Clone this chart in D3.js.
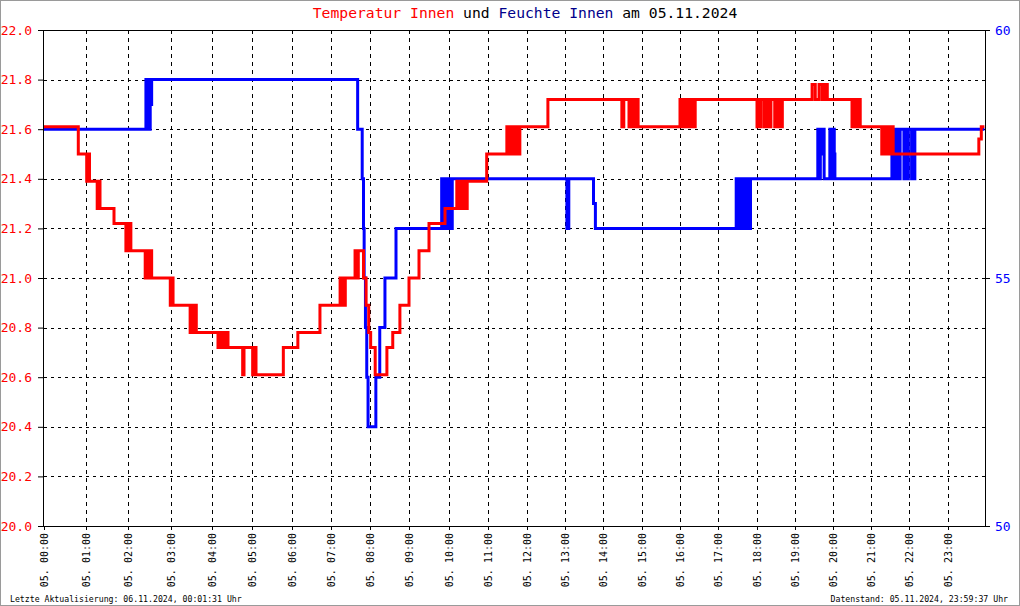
<!DOCTYPE html>
<html>
<head>
<meta charset="utf-8">
<script src="https://cdn.jsdelivr.net/npm/d3@7"></script>
<style>
  body { margin: 0; background: #fff; }
  svg { display: block; }
</style>
</head>
<body>
<script>
const margin = ({top: 30, right: 35, bottom: 80, left: 44})
const width = 1020
const height = 606

// x axis of the original runs by sample index, not clock time: samples logged per hour
const samplesPerHour = [42, 42, 43, 41, 40, 40, 39, 39, 39, 40, 39, 39,
                        38, 38, 39, 38, 38, 39, 38, 38, 38, 38, 39, 37]

const hourLabels = ["05. 00:00", "05. 01:00", "05. 02:00", "05. 03:00", "05. 04:00", "05. 05:00",
                    "05. 06:00", "05. 07:00", "05. 08:00", "05. 09:00", "05. 10:00", "05. 11:00",
                    "05. 12:00", "05. 13:00", "05. 14:00", "05. 15:00", "05. 16:00", "05. 17:00",
                    "05. 18:00", "05. 19:00", "05. 20:00", "05. 21:00", "05. 22:00", "05. 23:00"]

const tempTicks = [20.0, 20.2, 20.4, 20.6, 20.8, 21.0, 21.2, 21.4, 21.6, 21.8, 22.0]
const humTicks = [50, 55, 60]

// Temperatur Innen (°C)
const temperatur = [
  ["00:00",21.61],
  ["00:49",21.50],
  ["01:01",21.39],["01:02",21.50],["01:03",21.39],["01:04",21.50],["01:05",21.39],
  ["01:16",21.28],["01:17",21.39],["01:18",21.28],["01:19",21.39],["01:20",21.28],
  ["01:40",21.22],
  ["01:57",21.11],["01:58",21.22],["01:59",21.11],["02:00",21.22],["02:01",21.11],["02:02",21.22],["02:04",21.11],
  ["02:24",21.00],["02:25",21.11],["02:27",21.00],["02:29",21.11],["02:31",21.00],["02:32",21.11],["02:33",21.00],
  ["02:59",20.89],["03:00",21.00],["03:01",20.89],["03:02",21.00],["03:03",20.89],
  ["03:28",20.78],["03:30",20.89],["03:31",20.78],["03:33",20.89],["03:35",20.78],["03:36",20.89],["03:37",20.78],
  ["04:09",20.72],["04:11",20.78],["04:12",20.72],["04:14",20.78],["04:17",20.72],["04:19",20.78],["04:21",20.72],["04:23",20.78],["04:24",20.72],
  ["04:46",20.61],["04:48",20.72],
  ["05:01",20.61],["05:02",20.72],["05:04",20.61],["05:05",20.72],["05:06",20.61],
  ["05:47",20.72],
  ["06:09",20.78],
  ["06:43",20.89],
  ["07:14",21.00],["07:15",20.89],["07:17",21.00],["07:18",20.89],["07:20",21.00],["07:21",20.89],["07:22",21.00],
  ["07:37",21.11],["07:38",21.00],["07:39",21.11],["07:40",21.00],["07:42",21.11],
  ["07:50",21.00],["07:54",20.89],["07:58",20.78],["08:01",20.72],["08:08",20.61],
  ["08:26",20.72],["08:35",20.78],["08:46",20.89],["09:00",21.00],["09:15",21.11],["09:30",21.22],["09:54",21.28],
  ["10:12",21.39],["10:13",21.28],["10:15",21.39],["10:16",21.28],["10:18",21.39],["10:20",21.28],["10:22",21.39],
  ["10:24",21.28],["10:26",21.39],["10:27",21.28],["10:28",21.39],
  ["10:58",21.50],
  ["11:29",21.61],["11:30",21.50],["11:32",21.61],["11:33",21.50],["11:35",21.61],["11:37",21.50],["11:40",21.61],
  ["11:42",21.50],["11:44",21.61],["11:46",21.50],["11:49",21.61],
  ["12:33",21.72],
  ["14:29",21.61],["14:32",21.72],["14:40",21.61],["14:42",21.72],["14:45",21.61],["14:47",21.72],["14:50",21.61],["14:52",21.72],["14:54",21.61],
  ["16:00",21.72],["16:02",21.61],["16:04",21.72],["16:06",21.61],["16:08",21.72],["16:10",21.61],["16:12",21.72],
  ["16:14",21.61],["16:16",21.72],["16:18",21.61],["16:20",21.72],["16:22",21.61],["16:24",21.72],
  ["18:00",21.61],["18:02",21.72],["18:04",21.61],["18:06",21.72],
  ["18:11",21.61],["18:13",21.72],["18:15",21.61],["18:18",21.72],["18:20",21.61],["18:22",21.72],
  ["18:28",21.61],["18:30",21.72],["18:33",21.61],["18:35",21.72],["18:38",21.61],["18:40",21.72],
  ["19:27",21.78],["19:32",21.72],["19:38",21.78],["19:43",21.72],["19:47",21.78],["19:51",21.72],
  ["20:30",21.61],["20:32",21.72],["20:34",21.61],["20:36",21.72],["20:38",21.61],["20:40",21.72],["20:43",21.61],
  ["21:17",21.50],["21:19",21.61],["21:21",21.50],["21:23",21.61],["21:25",21.50],["21:27",21.61],["21:29",21.50],
  ["21:31",21.61],["21:33",21.50],["21:34",21.61],["21:35",21.50],
  ["23:50",21.56],["23:54",21.61],["23:59",21.61]
]

// Feuchte Innen (%)
const feuchte = [
  ["00:00",58],
  ["02:25",59],["02:26",58],["02:28",59],["02:29",58],["02:31",59],["02:32",58.5],["02:33",59],
  ["07:41",58],
  ["07:48",57],["07:50",56],["07:51",55],["07:53",54],["07:55",53],["07:57",52],
  ["08:09",53],["08:15",54],["08:23",55],["08:40",56],
  ["09:49",57],["09:50",56],["09:51",57],["09:52",56],["09:53",57],["09:54",56],["09:56",57],
  ["10:00",56],["10:02",57],["10:03",56],["10:05",57],
  ["13:03",56],["13:06",57],
  ["13:45",56.5],["13:48",56],
  ["17:28",57],["17:29",56.5],["17:30",57],["17:31",56],["17:33",57],["17:35",56],["17:38",57],["17:39",56],
  ["17:41",57],["17:42",56],["17:44",57],["17:46",56],["17:48",57],["17:49",56],["17:50",57],
  ["19:36",58],["19:38",57],["19:40",58],["19:42",57.5],["19:44",58],["19:46",57],
  ["19:55",58],["19:58",57],["20:00",58],["20:02",57.5],["20:03",57],
  ["21:33",58],["21:35",57],["21:37",58],["21:39",57],["21:41",58],["21:43",57],["21:46",58],
  ["21:52",57],["21:54",58],["21:56",57],["21:59",58],
  ["22:04",57],["22:06",58],["22:07",57],["22:09",58],
  ["23:59",58]
]

const toHours = s => { const [h, m] = s.split(":").map(Number); return h + m / 60 }
const tempData = temperatur.map(([t, v]) => ({h: toHours(t), v}))
const humData = feuchte.map(([t, v]) => ({h: toHours(t), v}))

// sample index -> pixels, clock hour -> sample index
const cum = [0, ...d3.cumsum(samplesPerHour)]
const sampleScale = d3.scaleLinear()
    .domain([0, cum[cum.length - 1]])
    .range([margin.left, width - margin.right])
const x = d3.scaleLinear()
    .domain(d3.range(25))
    .range(cum.map(sampleScale))

const yT = d3.scaleLinear()
    .domain([20, 22])
    .range([height - margin.bottom, margin.top])
const yH = d3.scaleLinear()
    .domain([50, 60])
    .range([height - margin.bottom, margin.top])

const mono = "'DejaVu Sans Mono', 'Liberation Mono', monospace"
const plotL = margin.left - 1, plotR = width - margin.right
const plotT = margin.top, plotB = height - margin.bottom

const svg = d3.select("body").append("svg")
    .attr("viewBox", [0, 0, width, height])
    .attr("width", width)
    .attr("height", height)

svg.append("rect")
    .attr("x", 0.5).attr("y", 0.5)
    .attr("width", width - 1).attr("height", height - 1)
    .attr("fill", "#fff")
    .attr("stroke", "#9a9a9a")

// grid
svg.append("g")
    .attr("stroke", "#000")
    .attr("stroke-dasharray", "4,4")
  .selectAll("line")
  .data(d3.range(1, 24))
  .join("line")
    .attr("x1", d => Math.round(x(d)) + 0.5)
    .attr("x2", d => Math.round(x(d)) + 0.5)
    .attr("y1", plotT)
    .attr("y2", plotB);

svg.append("g")
    .attr("stroke", "#000")
    .attr("stroke-dasharray", "3,4")
  .selectAll("line")
  .data(tempTicks.slice(1, -1))
  .join("line")
    .attr("x1", plotL + 1)
    .attr("x2", plotR)
    .attr("y1", d => Math.round(yT(d)) + 0.5)
    .attr("y2", d => Math.round(yT(d)) + 0.5);

// frame
svg.append("rect")
    .attr("x", plotL + 0.5).attr("y", plotT + 0.5)
    .attr("width", plotR - plotL).attr("height", plotB - plotT)
    .attr("fill", "none")
    .attr("stroke", "#000");

// axes
svg.append("g")
    .attr("transform", `translate(${plotL},0)`)
    .call(d3.axisLeft(yT).tickValues(tempTicks).tickFormat(d3.format(".1f")).tickSize(5).tickPadding(6))
    .call(g => g.select(".domain").remove())
    .call(g => g.selectAll("text").attr("fill", "#ff0000").attr("font-family", mono).attr("font-size", 13));

svg.append("g")
    .attr("transform", `translate(${plotR},0)`)
    .call(d3.axisRight(yH).tickValues(humTicks).tickSize(5).tickPadding(5))
    .call(g => g.select(".domain").remove())
    .call(g => g.selectAll("text").attr("fill", "#0000ff").attr("font-family", mono).attr("font-size", 13));

svg.append("g")
    .attr("transform", `translate(0,${plotB})`)
    .call(d3.axisBottom(x).tickValues(d3.range(24)).tickFormat(h => hourLabels[h]).tickSize(4))
    .call(g => g.select(".domain").remove())
    .call(g => g.selectAll("text")
        .attr("transform", "rotate(-90)")
        .attr("x", -7).attr("y", 0).attr("dy", "0.35em")
        .attr("text-anchor", "end")
        .attr("fill", "#000")
        .attr("font-family", mono).attr("font-size", 10));

// series
const line = (yScale) => d3.line()
    .x(d => x(d.h))
    .y(d => yScale(d.v))
    .curve(d3.curveStepAfter)

svg.append("path")
    .datum(humData)
    .attr("fill", "none")
    .attr("stroke", "#0000ff")
    .attr("stroke-width", 3)
    .attr("d", line(yH));

svg.append("path")
    .datum(tempData)
    .attr("fill", "none")
    .attr("stroke", "#ff0000")
    .attr("stroke-width", 3)
    .attr("d", line(yT));

// title
const title = svg.append("text")
    .attr("x", 525).attr("y", 18)
    .attr("text-anchor", "middle")
    .attr("font-family", mono).attr("font-size", 14.7)
title.append("tspan").attr("fill", "#ff0000").text("Temperatur Innen")
title.append("tspan").attr("fill", "#000").text(" und ")
title.append("tspan").attr("fill", "#00008b").text("Feuchte Innen")
title.append("tspan").attr("fill", "#000").text(" am 05.11.2024")

// footer
svg.append("text")
    .attr("x", 10).attr("y", 602)
    .attr("font-family", mono).attr("font-size", 8.2)
    .text("Letzte Aktualisierung: 06.11.2024, 00:01:31 Uhr")
svg.append("text")
    .attr("x", 1008).attr("y", 602)
    .attr("text-anchor", "end")
    .attr("font-family", mono).attr("font-size", 8.2)
    .text("Datenstand: 05.11.2024, 23:59:37 Uhr")
</script>
</body>
</html>
